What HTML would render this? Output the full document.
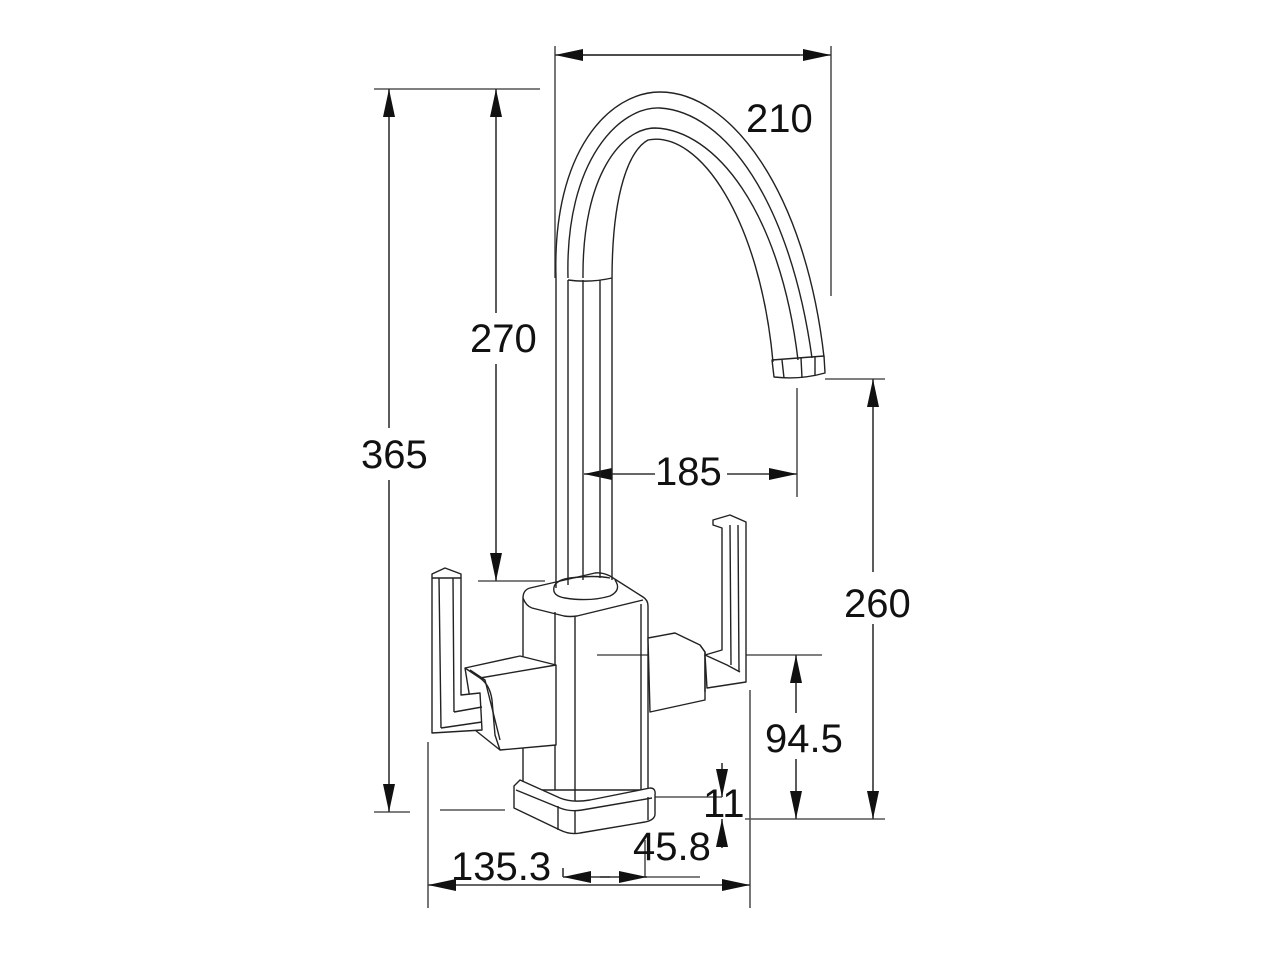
<!DOCTYPE html>
<html><head><meta charset="utf-8"><style>
html,body{margin:0;padding:0;background:#fff;}
svg{display:block;}
text{font-family:"Liberation Sans",Arial,sans-serif;font-size:40px;fill:#111;}
</style></head><body>
<svg width="1280" height="960" viewBox="0 0 1280 960" xmlns="http://www.w3.org/2000/svg">
<defs>
<marker id="a" viewBox="0 0 28 12" refX="28" refY="6" markerWidth="28" markerHeight="13" markerUnits="userSpaceOnUse" orient="auto"><path d="M0,0 L28,6 L0,12 Z" fill="#111"/></marker>
</defs>
<g stroke="#555" stroke-width="1.6" fill="none">
<line x1="555" y1="46" x2="555" y2="278"/>
<line x1="831" y1="46" x2="831" y2="296"/>
<line x1="374" y1="89" x2="540" y2="89"/>
<line x1="374" y1="812" x2="410" y2="812"/>
<line x1="478" y1="581" x2="545" y2="581"/>
<line x1="797" y1="388" x2="797" y2="497"/>
<line x1="825" y1="379" x2="885" y2="379"/>
<line x1="597" y1="655" x2="822" y2="655"/>
<line x1="745" y1="819" x2="885" y2="819"/>
<line x1="655" y1="797" x2="722" y2="797"/>
<line x1="428" y1="742" x2="428" y2="908"/>
<line x1="750" y1="690" x2="750" y2="908"/>
<line x1="440" y1="810" x2="505" y2="810"/>
<line x1="645" y1="840" x2="645" y2="877"/>
<line x1="645" y1="877" x2="700" y2="877"/>
</g>
<g stroke="#333" stroke-width="1.6" fill="none">
<line x1="583" y1="55" x2="831" y2="55" marker-end="url(#a)"/>
<line x1="800" y1="55" x2="555" y2="55" marker-end="url(#a)"/>
<line x1="389" y1="428" x2="389" y2="89" marker-end="url(#a)"/>
<line x1="389" y1="480" x2="389" y2="812" marker-end="url(#a)"/>
<line x1="496" y1="313" x2="496" y2="89" marker-end="url(#a)"/>
<line x1="496" y1="364" x2="496" y2="581" marker-end="url(#a)"/>
<line x1="655" y1="474" x2="584" y2="474" marker-end="url(#a)"/>
<line x1="727" y1="474" x2="797" y2="474" marker-end="url(#a)"/>
<line x1="873" y1="572" x2="873" y2="379" marker-end="url(#a)"/>
<line x1="873" y1="624" x2="873" y2="819" marker-end="url(#a)"/>
<line x1="796" y1="713" x2="796" y2="655" marker-end="url(#a)"/>
<line x1="796" y1="759" x2="796" y2="819" marker-end="url(#a)"/>
<line x1="722" y1="763" x2="722" y2="797" marker-end="url(#a)"/>
<line x1="722" y1="848" x2="722" y2="819" marker-end="url(#a)"/>
<line x1="560" y1="885" x2="428" y2="885" marker-end="url(#a)"/>
<line x1="560" y1="885" x2="750" y2="885" marker-end="url(#a)"/>
<line x1="610" y1="877" x2="563" y2="877" marker-end="url(#a)"/>
<line x1="600" y1="877" x2="647" y2="877" marker-end="url(#a)"/>
<line x1="563" y1="868" x2="563" y2="877"/>
</g>
<g fill="none" stroke="#222" stroke-width="1.4" stroke-linejoin="round">
<path d="M556,278 C552,150 610,92 660,92 C730,92 805,190 824,357"/>
<path d="M568,278 C565,160 620,106 660,108 C725,112 790,200 812,358"/>
<path d="M583,278 C582,175 622,128 655,128 C715,130 780,210 798,360"/>
<path d="M612,280 C612,190 630,150 648,140 C700,130 760,220 773,362"/>
<path d="M568,280 Q590,283 612,278"/>
<line x1="556" y1="278" x2="556" y2="588"/>
<line x1="568" y1="280" x2="568" y2="585"/>
<line x1="583" y1="280" x2="583" y2="580"/>
<line x1="600" y1="280" x2="600" y2="578"/>
<line x1="612" y1="280" x2="612" y2="580"/>
<path d="M772,360 L824,356 L825,373 Q800,380 774,377 Z"/>
<line x1="782" y1="360" x2="784" y2="378"/>
<line x1="801" y1="358" x2="802" y2="378"/>
<line x1="815" y1="357" x2="815" y2="376"/>
<path d="M523,598 Q523,590 530,588 L595,573 Q602,572 610,576 L643,597 Q648,600 648,606 L648,790 L523,790 Z"/>
<path d="M523,598 Q526,606 532,608 L564,616 Q570,617 577,616 L643,600"/>
<path d="M554,587 Q552,596 565,598 Q590,602 610,596 Q622,590 615,580"/>
<path d="M554,587 Q556,580 570,578 Q595,575 610,578"/>
<line x1="555" y1="612" x2="555" y2="790"/>
<line x1="575" y1="617" x2="575" y2="810"/>
<line x1="641" y1="604" x2="641" y2="790"/>
<path d="M514,786 L520,780 L560,798 Q572,803 590,800 L650,788 Q656,788 655,795 L655,814 Q655,820 645,822 L580,833 Q570,835 560,830 L514,808 Z" fill="#fff"/>
<path d="M516,790 L560,808 Q570,812 582,810 L652,798"/>
<line x1="558" y1="806" x2="558" y2="830"/>
<line x1="575" y1="810" x2="575" y2="833"/>
<line x1="648" y1="797" x2="648" y2="820"/>
<path d="M465,668 L520,656 L556,665 L556,745 L500,750 L475,730 Z" fill="#fff"/>
<path d="M465,668 L480,678 Q490,685 492,700 L495,735 L500,750"/>
<path d="M470,670 L485,680 L500,740"/>
<path d="M480,678 L556,665"/>
<path d="M432,574 L445,568 L461,574 L461,695 L480,693 L482,730 L432,733 Z" fill="#fff"/>
<line x1="432" y1="578" x2="461" y2="578"/>
<line x1="439" y1="578" x2="441" y2="728"/>
<line x1="453" y1="578" x2="454" y2="712"/>
<path d="M454,712 L482,707"/>
<path d="M441,728 L482,722"/>
<path d="M648,638 L675,633 L700,645 L705,652 L705,700 L650,712 Z" fill="#fff"/>
<path d="M700,645 L705,652 L705,692"/>
<path d="M713,520 L730,515 L746,522 L746,682 L707,688 L705,655 L722,650 L722,528 L713,525 Z" fill="#fff"/>
<line x1="730" y1="525" x2="731" y2="665"/>
<line x1="738" y1="525" x2="739" y2="672"/>
<path d="M705,655 L727,665 L740,672"/>
</g>
<text x="746" y="132">210</text>
<text x="470" y="352">270</text>
<text x="361" y="468">365</text>
<text x="655" y="485">185</text>
<text x="844" y="617">260</text>
<text x="765" y="752">94.5</text>
<text x="703" y="817">11</text>
<text x="633" y="860">45.8</text>
<text x="451" y="880">135.3</text>
</svg>
</body></html>
